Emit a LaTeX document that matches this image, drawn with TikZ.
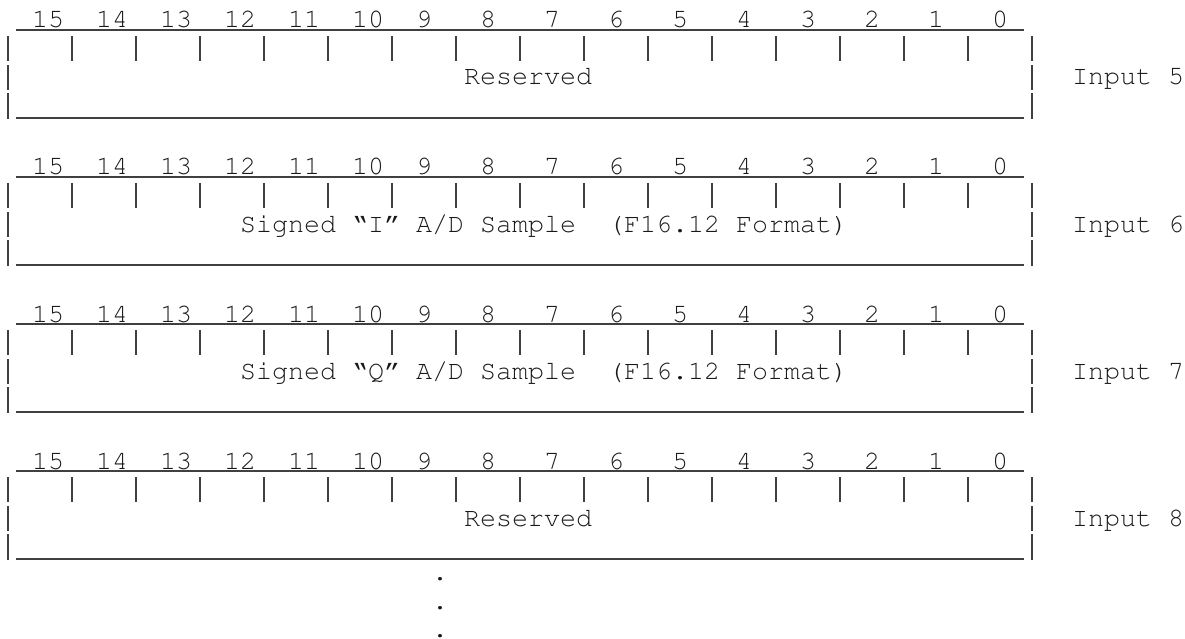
\documentclass[tikz,border=0pt]{standalone}
\usepackage[T1]{fontenc}
\newcommand\courf{\fontencoding{T1}\fontfamily{pcr}\fontseries{m}\fontshape{n}\fontsize{26.67}{29}\selectfont}
\tikzset{
  bar/.style={line width=1.3pt, draw=black!75},
  txt/.style={anchor=base west, inner sep=0pt, outer sep=0pt, font=\courf, text=black!90}
}
% #1 name, #2 top y, #3 column of middle text, #4 middle text, #5 input number
\newcommand\regbox[5]{%
  \draw[bar] (16,#2) -- (1024,#2);
  \draw[bar] (16,#2+88) -- (1024,#2+88);
  \foreach \xx in {8,1032}{
    \draw[bar] (\xx,#2+6) -- (\xx,#2+31);
    \draw[bar] (\xx,#2+35) -- (\xx,#2+60);
    \draw[bar] (\xx,#2+63) -- (\xx,#2+89);
  }
  \foreach \k in {1,...,15}{
    \draw[bar] (8+64*\k,#2+6) -- (8+64*\k,#2+31);
  }
  \foreach \k in {0,...,15}{
    \pgfmathtruncatemacro\bitn{15-\k}
    \node[txt] (#1b\k) at (64*\k+32,#2-2) {\bitn};
  }
  \node[txt] (#1mid) at (16*#3,#2+55) {#4};
  \node[txt] (#1in) at (1072,#2+55) {Input #5};
}
\begin{document}
\begin{tikzpicture}[x=1pt,y=-1pt]
\useasboundingbox (0,0) rectangle (1185,639);
\regbox{r5}{30}{29}{Reserved}{5}
\regbox{r6}{177}{15}{Signed \textquotedblleft I\textquotedblright\ A/D Sample\ \ (F16.12 Format)}{6}
\regbox{r7}{324}{15}{Signed \textquotedblleft Q\textquotedblright\ A/D Sample\ \ (F16.12 Format)}{7}
\regbox{r8}{471}{29}{Reserved}{8}
\node[txt] (dot1) at (432,580.5) {.};
\node[txt] (dot2) at (432,609) {.};
\node[txt] (dot3) at (432,637) {.};
\end{tikzpicture}
\end{document}
